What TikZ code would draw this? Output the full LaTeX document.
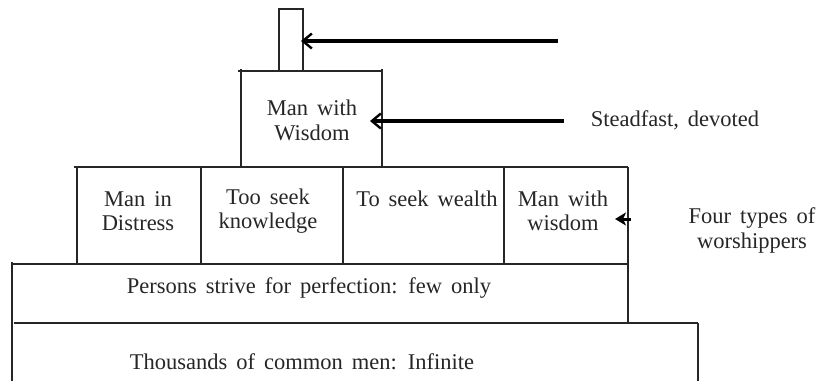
\documentclass[tikz,border=0pt]{standalone}
\usepackage{fontspec}
\setmainfont{Liberation Serif}[WordSpace=1.6]
\usetikzlibrary{arrows.meta}
\tikzset{
  edge/.style={line width=1.1pt, black!85},
  lbl/.style={inner sep=0pt, align=center, font=\fontsize{22.5}{24.5}\selectfont, text=black!85},
  pointer/.style={line width=3.2pt, black, -{Straight Barb[length=9pt,width=15pt,line width=2.4pt]}},
  smallptr/.style={line width=3pt, black, -{Stealth[length=11pt,width=13pt,inset=3pt]}}
}
\begin{document}
\begin{tikzpicture}[x=1pt,y=-1pt]
\useasboundingbox (0,0) rectangle (820,381);
% chimney
\draw[edge] (279,70) -- (279,9) -- (303,9) -- (303,70);
% top box
\draw[edge] (241,167) -- (241,69);
\draw[edge] (238,71) -- (382,71);
\draw[edge] (382,69) -- (382,167);
% row of four boxes
\draw[edge] (74,167) -- (628,167);
\foreach \x in {77,201,343,504} \draw[edge] (\x,167) -- (\x,264);
\draw[edge] (628,167) -- (628,323);
\draw[edge] (12,264) -- (628,264);
% base rows
\draw[edge] (12,262) -- (12,381);
\draw[edge] (14,323) -- (698,323);
\draw[edge] (698,323) -- (698,381);
% texts
\node[lbl] (wisdomtop) at (312,120.5) {Man with\\Wisdom};
\node[lbl] (distress) at (138,211) {Man in\\Distress};
\node[lbl] (knowledge) at (268,211) {Too seek\\knowledge};
\node[lbl] (wealth) at (427,199) {To seek wealth};
\node[lbl] (wisdom) at (563,211) {Man with\\wisdom};
\node[lbl] (four) at (752,230.5) {Four types of\\worshippers};
\node[lbl] (steadfast) at (675,120) {Steadfast, devoted};
\node[lbl] (persons) at (309,288) {Persons strive for perfection: few only};
\node[lbl] (thousands) at (302,362) {Thousands of common men: Infinite};
% arrows
\coordinate (a1s) at (558,41);
\coordinate (a1e) at (301,41);
\coordinate (a2s) at (564,121);
\coordinate (a2e) at (370,121);
\coordinate (a3s) at (631,219);
\coordinate (a3e) at (615,219);
\draw[pointer] (a1s) -- (a1e);
\draw[pointer] (a2s) -- (a2e);
\draw[smallptr] (a3s) -- (a3e);
\end{tikzpicture}
\end{document}
